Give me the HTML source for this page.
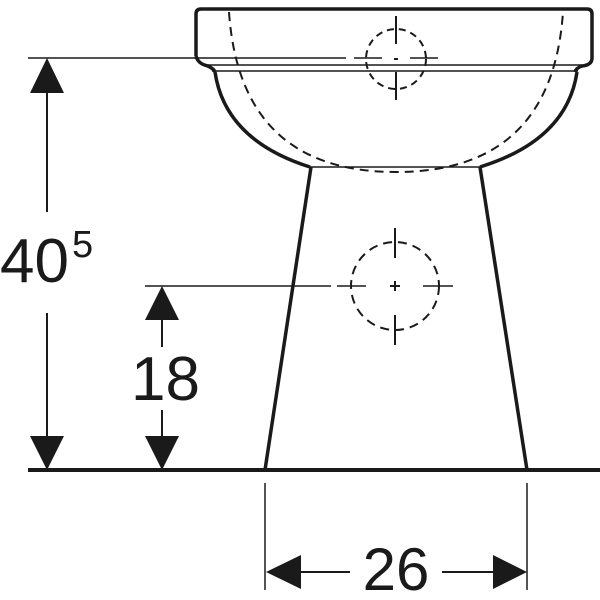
<!DOCTYPE html>
<html><head><style>body{margin:0;background:#fff}svg{display:block}</style></head><body>
<svg width="600" height="600" viewBox="0 0 600 600" xmlns="http://www.w3.org/2000/svg">
<g fill="none" stroke="#1a1a1a" stroke-linecap="butt">
<!-- rim -->
<path d="M196,56 L196,14 Q196,9 201,9 L587,9 Q592,9 592,14 L592,58 Q592,65 582,66 Q576,68 575,72" stroke-width="3.5"/>
<path d="M196,56 Q198,64 208,66 Q214,69 215,72" stroke-width="3.5"/>
<line x1="208" y1="65" x2="582" y2="65" stroke-width="1.5"/>
<line x1="212" y1="71" x2="578" y2="71" stroke-width="1.5"/>
<line x1="28" y1="58" x2="346" y2="58" stroke-width="1.5"/>
<line x1="354" y1="58" x2="382" y2="58" stroke-width="1.5"/>
<line x1="410" y1="58" x2="438" y2="58" stroke-width="1.5"/>
<!-- bowl -->
<path d="M215,72 Q225,140 310,167" stroke-width="3.5"/>
<path d="M577,72 Q567,140 480,167" stroke-width="3.5"/>
<line x1="310" y1="167" x2="480" y2="167" stroke-width="1.5"/>
<path d="M229,12 Q240,172 396,172 Q552,172 563,12" stroke-width="2" stroke-dasharray="9,6"/>
<!-- top small circle -->
<circle cx="396" cy="59" r="30" stroke-width="2" stroke-dasharray="7,5"/>
<line x1="396" y1="16" x2="396" y2="44" stroke-width="2"/>
<line x1="396" y1="72" x2="396" y2="100" stroke-width="2"/>
<line x1="394" y1="59" x2="398" y2="59" stroke-width="2"/>
<!-- pedestal -->
<line x1="311" y1="167" x2="265" y2="470" stroke-width="3.5"/>
<line x1="480" y1="167" x2="527" y2="470" stroke-width="3.5"/>
<line x1="28" y1="470" x2="600" y2="470" stroke-width="4"/>
<!-- lower circle -->
<circle cx="395" cy="286" r="44" stroke-width="2" stroke-dasharray="9,6"/>
<line x1="395" y1="228" x2="395" y2="258" stroke-width="2"/>
<line x1="395" y1="315" x2="395" y2="345" stroke-width="2"/>
<line x1="390" y1="286" x2="400" y2="286" stroke-width="2"/>
<line x1="395" y1="281" x2="395" y2="291" stroke-width="2"/>
<line x1="145" y1="286" x2="331" y2="286" stroke-width="1.5"/>
<line x1="337" y1="286" x2="366" y2="286" stroke-width="1.5"/>
<line x1="423" y1="286" x2="453" y2="286" stroke-width="1.5"/>
<!-- dims -->
<line x1="47" y1="90" x2="47" y2="212" stroke-width="2"/>
<line x1="47" y1="313" x2="47" y2="440" stroke-width="2"/>
<line x1="162" y1="318" x2="162" y2="347" stroke-width="2"/>
<line x1="162" y1="410" x2="162" y2="440" stroke-width="2"/>
<line x1="265" y1="483" x2="265" y2="590" stroke-width="1.5"/>
<line x1="527" y1="483" x2="527" y2="590" stroke-width="1.5"/>
<line x1="298" y1="572" x2="350" y2="572" stroke-width="2"/>
<line x1="442" y1="572" x2="495" y2="572" stroke-width="2"/>
</g>
<g fill="#1a1a1a">
<polygon points="47,58 30,93 64,93"/>
<polygon points="47,470 30,436 64,436"/>
<polygon points="162,286 145,320 179,320"/>
<polygon points="162,470 145,436 179,436"/>
<polygon points="266,572 301,555 301,589"/>
<polygon points="527,572 493,555 493,589"/>
</g>
<g font-family="Liberation Sans, sans-serif" fill="#1a1a1a">
<text x="0" y="282" font-size="62">40</text>
<text x="72" y="257" font-size="38">5</text>
<text x="131" y="400" font-size="62">18</text>
<text x="396" y="590" font-size="60" text-anchor="middle">26</text>
</g>
</svg>
</body></html>
